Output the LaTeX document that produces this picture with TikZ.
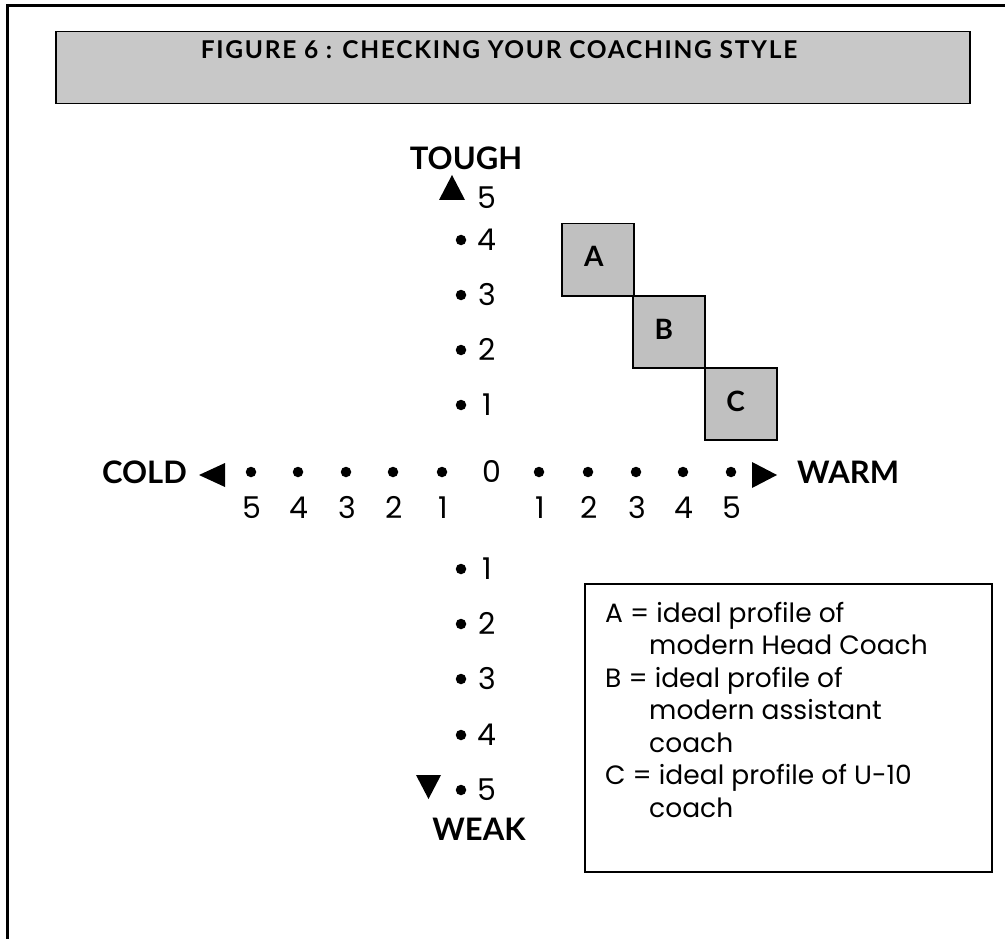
\documentclass[tikz,border=0pt]{standalone}
\usepackage{fontspec}
\setmainfont{Poppins}
\newfontfamily\lblfont{Lato}
\definecolor{titlegray}{RGB}{200,200,200}
\definecolor{boxgray}{RGB}{192,192,192}
\begin{document}
\begin{tikzpicture}[x=1pt,y=-1pt,
  dot/.style={circle,fill=black,inner sep=0pt,minimum size=10.5pt},
  num/.style={inner sep=0pt,anchor=base,font=\fontsize{30}{30}\selectfont},
  lbl/.style={inner sep=0pt,anchor=base,font=\lblfont\bfseries\fontsize{31}{31}\selectfont},
  sqbox/.style={draw=black,fill=boxgray,line width=1.5pt,minimum size=72pt,inner sep=0pt,anchor=north west},
  sqlbl/.style={inner sep=0pt,font=\lblfont\bfseries\fontsize{28}{28}\selectfont},
  leg/.style={inner sep=0pt,anchor=base west,font=\fontsize{26.5}{26.5}\selectfont},
  tri/.style={fill=black}]
\useasboundingbox (0,0) rectangle (1005,939);
\clip (0,0) rectangle (1005,939);
% outer frame
\draw[line width=3pt] (7,960) -- (7,6) -- (1020,6);
% title
\node[draw,line width=1.5pt,fill=titlegray,minimum width=914pt,minimum height=72pt,anchor=north west,inner sep=0pt] (title) at (55,31) {};
\node[anchor=base,inner sep=0pt,font=\lblfont\bfseries\fontsize{24.5}{24.5}\selectfont\addfontfeature{LetterSpace=7}] (titletext) at (499,59) {FIGURE 6 : CHECKING YOUR COACHING STYLE};
% vertical axis
\node[lbl] (tough) at (466,170) {TOUGH};
\fill[tri] (439,200) -- (465,200) -- (452,175) -- cycle;
\node[num] (v5) at (487,208) {5};
\foreach \n/\y in {4/240,3/295,2/350,1/405}{
  \node[dot] (vd\n) at (461,\y) {};
  \node[num] (vn\n) at (487,\y+10.5) {\n};
}
\foreach \n/\y in {1/569,2/624,3/679,4/735,5/790}{
  \node[dot] (wd\n) at (461,\y) {};
  \node[num] (wn\n) at (487,\y+10.5) {\n};
}
\fill[tri] (416,775) -- (441,775) -- (428.5,799) -- cycle;
\node[lbl] (weak) at (479,840) {WEAK};
% horizontal axis
\node[lbl,anchor=base east] (cold) at (187,483) {COLD};
\fill[tri] (225,463) -- (225,487) -- (199,475) -- cycle;
\foreach \n/\x in {5/251,4/298,3/346,2/393,1/442}{
  \node[dot] (cd\n) at (\x,472) {};
  \node[num] (cn\n) at (\x+1,518) {\n};
}
\node[num] (zero) at (492,482.5) {0};
\foreach \n/\x in {1/539,2/588,3/636,4/683,5/731}{
  \node[dot] (hd\n) at (\x,472) {};
  \node[num] (hn\n) at (\x+1,518) {\n};
}
\fill[tri] (752,462) -- (752,488) -- (777,475) -- cycle;
\node[lbl,anchor=base west] (warm) at (797,483) {WARM};
% profile squares
\node[sqbox] (A) at (561,223) {};
\node[sqbox] (B) at (632,295) {};
\node[sqbox] (C) at (704,367) {};
\node[sqlbl] (Al) at ([xshift=-4pt,yshift=3pt]A.center) {A};
\node[sqlbl] (Bl) at ([xshift=-5pt,yshift=2pt]B.center) {B};
\node[sqlbl] (Cl) at ([xshift=-5pt,yshift=2pt]C.center) {C};
% legend
\node[draw,line width=1.5pt,minimum width=407pt,minimum height=288pt,anchor=north west,inner sep=0pt] (legend) at (584,583) {};
\node[leg] (l1) at (605,622) {A = ideal profile of};
\node[leg] (l2) at (649,654) {modern Head Coach};
\node[leg] (l3) at (605,687) {B = ideal profile of};
\node[leg] (l4) at (649,719) {modern assistant};
\node[leg] (l5) at (649,752) {coach};
\node[leg] (l6) at (605,784) {C = ideal profile of U-10};
\node[leg] (l7) at (649,817) {coach};
\end{tikzpicture}
\end{document}
